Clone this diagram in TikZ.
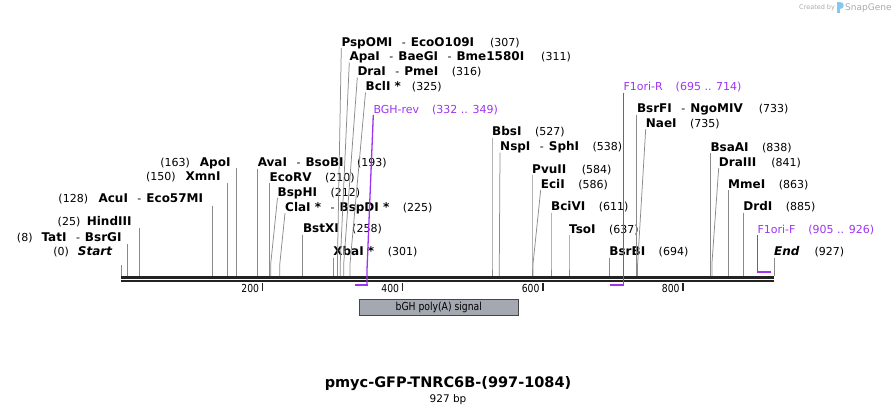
\documentclass[tikz,border=0pt]{standalone}
\usepackage{fontspec}
\setmainfont{DejaVu Sans}
\newfontfamily\condf[FakeStretch=0.84]{DejaVu Sans}
\definecolor{pur}{RGB}{158,52,240}
\definecolor{lg}{RGB}{138,138,138}
\definecolor{bbone}{RGB}{34,34,34}
\definecolor{boxfill}{RGB}{164,168,176}
\definecolor{boxdraw}{RGB}{70,70,70}
\definecolor{wmgray}{RGB}{170,170,170}
\definecolor{wmblue}{RGB}{130,200,240}
\newcommand\nm[1]{{\fontsize{12}{13}\selectfont\bfseries #1}}
\newcommand\dsh{\hspace{9.5pt}-\hspace{5pt}}
\newcommand\gp{\hspace{13.5pt}}
\newcommand\EnzR[5]{%
  \node[lab, anchor=base west] (#1) at (#2,#3+4) {#5};
  \coordinate (#1-s) at (#4,276);
  \draw[enz] ([yshift=-1.8pt]#1.base west) -- (#4,264) -- (#1-s);}
\newcommand\EnzL[6]{%
  \node[lab, anchor=base east] (#1) at (#2,#3+4) {#6};
  \coordinate (#1-t) at (#4,#5);
  \coordinate (#1-s) at (#4,276);
  \draw[enz] (#1-t) -- (#1-s);}
\tikzset{
  lab/.style={inner sep=0pt, font=\fontsize{11}{13}\selectfont},
  plab/.style={lab, text=pur},
  enz/.style={draw=lg, line width=0.75pt},
  primv/.style={draw=pur, line width=1.3pt},
  primh/.style={draw=pur, line width=2pt},
  tick/.style={draw=bbone, line width=1.6pt},
  ticklab/.style={inner sep=0pt, font=\condf\fontsize{11}{13}\selectfont},
}
\begin{document}
\begin{tikzpicture}[x=1pt,y=-1pt]
\useasboundingbox (0,0) rectangle (896,415);
% backbone
\fill[bbone] (120.7,275.8) rectangle (774.3,279.2);
\fill[bbone] (120.7,280.3) rectangle (774.3,282.4);
% ticks
\foreach \tx/\tl in {262.3/200,402.3/400,542.7/600,682.7/800}{
  \coordinate (t\tl) at (\tx,283);
  \draw[tick] (t\tl) -- ++(0,8);
  \node[ticklab, anchor=base east] (tl\tl) at (\tx-3,292.5) {\tl};
}
% feature box
\node[draw=boxdraw, fill=boxfill, line width=0.8pt, minimum width=159pt, minimum height=16.5pt, inner sep=0pt,
      font=\condf\fontsize{11}{13}\selectfont] (bgh) at (438.8,307.5) {bGH poly(A) signal};
% left labels
\EnzL{start}{112.3}{251.7}{121.5}{265}{(0)\hspace{9pt}{\fontsize{12}{13}\selectfont\bfseries\itshape Start}}
\EnzL{tati}{121.7}{237}{127.7}{244}{(8)\hspace{9pt}\nm{TatI}\dsh\nm{BsrGI}}
\EnzL{hind}{131.7}{221.7}{139.3}{228}{(25)\hspace{6.5pt}\nm{HindIII}}
\EnzL{acui}{203.3}{198}{212}{205.5}{(128)\hspace{10.5pt}\nm{AcuI}\dsh\nm{Eco57MI}}
\EnzL{xmni}{220.7}{176.7}{227.3}{182.7}{(150)\hspace{10pt}\nm{XmnI}}
\EnzL{apoi}{230.7}{162.7}{236.3}{168.3}{(163)\hspace{10pt}\nm{ApoI}}
% right labels
\EnzR{avai}{257.6}{162.7}{257.6}{\nm{AvaI}\dsh\nm{BsoBI}\gp(193)}
\EnzR{ecorv}{269.4}{177}{269.4}{\nm{EcoRV}\gp(210)}
\EnzR{bsphi}{277.5}{192}{270.7}{\nm{BspHI}\gp(212)}
\EnzR{clai}{285}{207.3}{279.8}{\nm{ClaI *}\dsh\nm{BspDI *}\gp(225)}
\EnzR{bstxi}{302.8}{228.7}{302.8}{\nm{BstXI}\gp(258)}
\EnzR{xbai}{333.2}{251.7}{333.2}{\nm{XbaI *}\gp(301)}
\EnzR{pspomi}{341.3}{42.3}{337.4}{\nm{PspOMI}\dsh\nm{EcoO109I}\hspace{16pt}(307)}
\EnzR{apai}{349.3}{56.7}{340.2}{\nm{ApaI}\dsh\nm{BaeGI}\dsh\nm{Bme1580I}\hspace{17pt}(311)}
\EnzR{drai}{357.3}{71.7}{343.7}{\nm{DraI}\dsh\nm{PmeI}\gp(316)}
\EnzR{bcli}{365.5}{86.7}{350}{\nm{BclI *}\hspace{11pt}(325)}
\EnzR{bbsi}{492}{131.7}{492}{\nm{BbsI}\gp(527)}
\EnzR{nspi}{500}{146.7}{499.3}{\nm{NspI}\dsh\nm{SphI}\gp(538)}
\EnzR{pvuii}{532}{169}{532}{\nm{PvuII}\hspace{15.5pt}(584)}
\EnzR{ecii}{540.7}{184}{533}{\nm{EciI}\gp(586)}
\EnzR{bcivi}{551}{206.7}{551}{\nm{BciVI}\gp(611)}
\EnzR{tsoi}{569}{229}{569}{\nm{TsoI}\gp(637)}
\EnzR{bsrbi}{609.2}{251.7}{609.2}{\nm{BsrBI}\gp(694)}
\EnzR{bsrfi}{636.8}{108.7}{636.8}{\nm{BsrFI}\dsh\nm{NgoMIV}\hspace{16pt}(733)}
\EnzR{naei}{645.7}{123.3}{637.6}{\nm{NaeI}\gp(735)}
\EnzR{bsaai}{710.3}{147.3}{710.3}{\nm{BsaAI}\gp(838)}
\EnzR{draiii}{718.7}{162}{711.9}{\nm{DraIII}\hspace{15pt}(841)}
\EnzR{mmei}{728}{184}{728}{\nm{MmeI}\gp(863)}
\EnzR{drdi}{743.2}{206.7}{743.2}{\nm{DrdI}\gp(885)}
\EnzR{endl}{774}{251.7}{774}{{\fontsize{12}{13}\selectfont\bfseries\itshape End}\hspace{15pt}(927)}
% primers
\node[plab, anchor=base west] (bghrev) at (373.3,113) {BGH-rev\hspace{13pt}(332 .. 349)};
\coordinate (bghrev-b) at (367,270);
\coordinate (bghrev-c) at (367,285);
\coordinate (bghrev-e) at (355,285);
\draw[primv] ([yshift=-1.8pt]bghrev.base west) -- (bghrev-b) -- (bghrev-c);
\draw[primh] ([xshift=0.65pt]bghrev-c) -- (bghrev-e);
\node[plab, anchor=base west] (f1r) at (623.3,90.7) {F1ori-R\hspace{13pt}(695 .. 714)};
\coordinate (f1r-c) at (623.3,285);
\coordinate (f1r-e) at (610,285);
\draw[primv] ([yshift=-1.8pt]f1r.base west) -- (f1r-c);
\draw[primh] ([xshift=0.65pt]f1r-c) -- (f1r-e);
\node[plab, anchor=base west] (f1f) at (757.3,233) {F1ori-F\hspace{13pt}(905 .. 926)};
\coordinate (f1f-c) at (757.3,272.3);
\coordinate (f1f-e) at (771,272.3);
\draw[primv] ([yshift=-1.8pt]f1f.base west) -- (f1f-c);
\draw[primh] ([xshift=-0.65pt]f1f-c) -- (f1f-e);
% title
\node[inner sep=0pt, anchor=base, font=\bfseries\fontsize{14.5}{16}\selectfont] (title) at (448,387.5) {pmyc-GFP-TNRC6B-(997-1084)};
\node[inner sep=0pt, anchor=base, font=\fontsize{10.5}{12}\selectfont] (bp) at (448,402.5) {927 bp};
% watermark
\node[inner sep=0pt, anchor=base west, text=wmgray, font=\fontsize{6.5}{7}\selectfont] (wm1) at (799,9.5) {Created by};
\fill[wmblue] (836.5,2) rectangle (839.5,13);
\fill[wmblue] (839.5,2) .. controls (844.5,2) and (844.5,9) .. (839.5,9) -- cycle;
\node[inner sep=0pt, anchor=base west, text=wmgray, font=\fontsize{9}{10}\selectfont] (wm2) at (845,10.5) {SnapGene};
\end{tikzpicture}
\end{document}
